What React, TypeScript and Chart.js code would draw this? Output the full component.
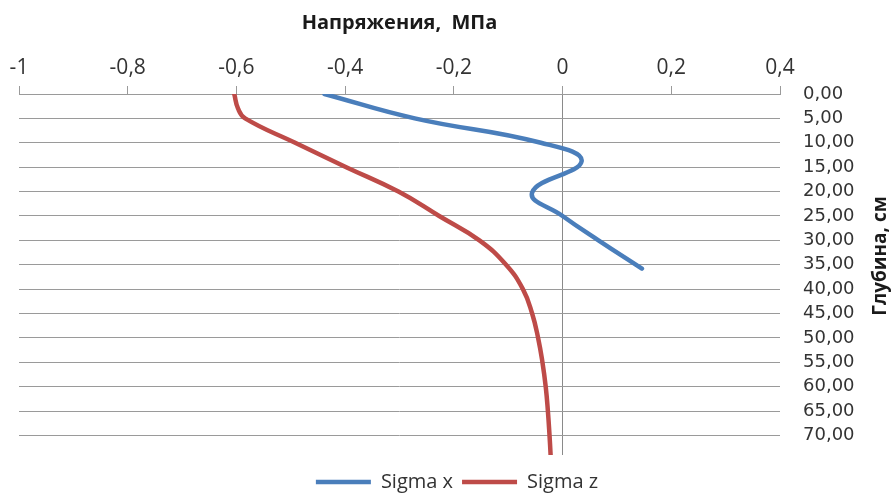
import React, { useEffect, useRef } from 'react';
import { Chart, registerables } from 'chart.js';

Chart.register(...registerables);

// ---- data ----
const xTicks = [-1, -0.8, -0.6, -0.4, -0.2, 0, 0.2, 0.4];
const depthTicks = [0, 5, 10, 15, 20, 25, 30, 35, 40, 45, 50, 55, 60, 65, 70];

const sigmaXDepth = [0, 5, 10, 13.8, 20.2, 25, 30, 35.8];
const sigmaXValue = [-0.438, -0.272, -0.04, 0.035, -0.056, 0.0, 0.066, 0.146];

const sigmaZDepth = [0, 3, 5, 10, 15, 20, 25, 30, 35, 40, 45, 50, 55, 60, 65, 70, 74];
const sigmaZValue = [-0.604, -0.597, -0.584, -0.492, -0.398, -0.302, -0.227, -0.153, -0.104, -0.073, -0.056, -0.045, -0.037, -0.031, -0.027, -0.024, -0.022];

const seriesNames = ['Sigma x', 'Sigma z'];
const xTitle = 'Напряжения,  МПа';
const yTitle = 'Глубина, см';

const BLUE = '#4a7ebb';
const RED = '#be4b48';
const GRID = '#9a9a9a';

const yTitlePlugin = {
  id: 'yTitleLeftRot',
  afterLayout(chart: any) {
    if (chart.legend) {
      chart.legend.top += 8;
      chart.legend.bottom += 8;
    }
  },
  afterDraw(chart: any) {
    const ctx = chart.ctx;
    ctx.save();
    ctx.translate(881, 256);
    ctx.rotate(-Math.PI / 2);
    ctx.font = "bold 19px 'Open Sans', sans-serif";
    ctx.fillStyle = '#1a1a1a';
    ctx.textAlign = 'center';
    ctx.textBaseline = 'middle';
    ctx.fillText(yTitle, 0, 0);
    ctx.restore();
  },
};

export default function App() {
  const ref = useRef<HTMLCanvasElement>(null);

  useEffect(() => {
    if (!ref.current) return;
    const toPts = (d: number[], v: number[]) => d.map((y, i) => ({ x: v[i], y }));
    const chart = new Chart(ref.current, {
      type: 'line',
      data: {
        datasets: [
          {
            label: seriesNames[0],
            data: toPts(sigmaXDepth, sigmaXValue),
            borderColor: BLUE,
            backgroundColor: BLUE,
            borderWidth: 4.5,
            pointRadius: 0,
            tension: 0.45,
            borderCapStyle: 'round',
            fill: false,
          },
          {
            label: seriesNames[1],
            data: toPts(sigmaZDepth, sigmaZValue),
            borderColor: RED,
            backgroundColor: RED,
            borderWidth: 4.5,
            pointRadius: 0,
            tension: 0.45,
            borderCapStyle: 'round',
            fill: false,
          },
        ],
      },
      options: {
        animation: false,
        responsive: false,
        indexAxis: 'y',
        layout: { padding: { left: 19, right: 0, top: 0, bottom: 0 } },
        scales: {
          x: {
            type: 'linear',
            position: 'top',
            min: -1,
            max: 0.4,
            afterBuildTicks: (s: any) => {
              s.ticks = xTicks.map((v) => ({ value: v }));
            },
            afterFit: (s: any) => {
              s.height = 94;
            },
            ticks: {
              autoSkip: false,
              maxRotation: 0,
              padding: 5,
              color: '#333333',
              font: { family: "'Open Sans', sans-serif", size: 21 },
              callback: (v: any) => {
                const r = Math.round(Number(v) * 10) / 10;
                return r === 0 ? '0' : String(r).replace('.', ',');
              },
            },
            grid: {
              color: (c: any) => (c.tick && Math.abs(c.tick.value) < 1e-9 ? '#8a8a8a' : 'rgba(0,0,0,0)'),
              tickColor: GRID,
              tickLength: 8,
              drawTicks: true,
            },
            border: { display: true, color: GRID, width: 1 },
            title: {
              display: true,
              text: xTitle,
              color: '#1a1a1a',
              font: { family: "'Open Sans', sans-serif", size: 20, weight: 'bold' },
              padding: { top: 11, bottom: 8 },
            },
          },
          y: {
            type: 'linear',
            position: 'right',
            reverse: true,
            min: 0,
            max: 74,
            afterBuildTicks: (s: any) => {
              s.ticks = depthTicks.map((v) => ({ value: v }));
            },
            afterFit: (s: any) => {
              s.width = 115;
            },
            ticks: {
              autoSkip: false,
              padding: 23,
              color: '#333333',
              font: { family: "'DejaVu Sans', sans-serif", size: 18 },
              callback: (v: any) => Number(v).toFixed(2).replace('.', ','),
            },
            grid: { color: GRID, drawTicks: false },
            border: { display: false },
          },
        },
        plugins: {
          legend: {
            position: 'bottom',
            labels: {
              usePointStyle: true,
              pointStyle: 'line',
              pointStyleWidth: 55,
              color: '#333333',
              padding: 9,
              font: { family: "'Open Sans', sans-serif", size: 20 },
            },
          },
          title: { display: false },
          tooltip: { enabled: false },
        },
      },
      plugins: [yTitlePlugin],
    } as any);
    return () => chart.destroy();
  }, []);

  return (
    <div style={{ position: 'fixed', left: 0, top: 0, width: 895, height: 494, background: '#fff' }}>
      <canvas ref={ref} width={895} height={494} style={{ display: 'block' }} />
    </div>
  );
}
